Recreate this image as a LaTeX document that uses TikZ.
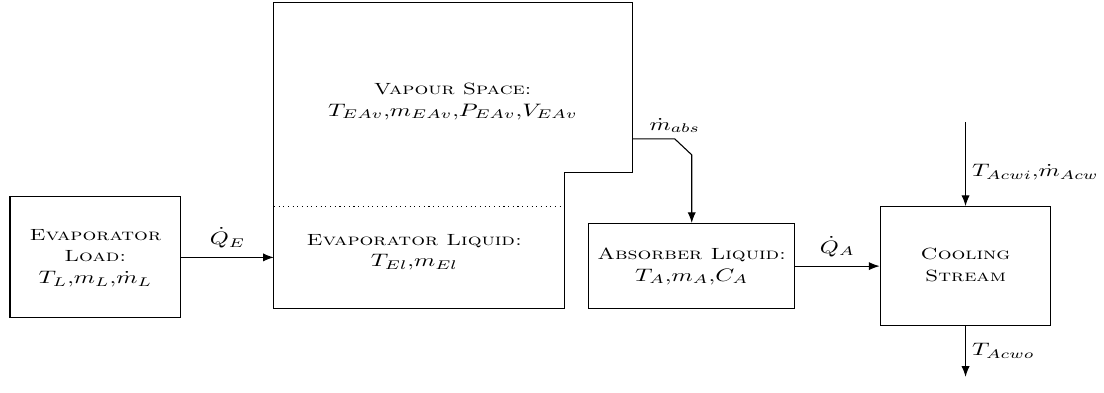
\documentclass[tikz,border=0pt]{standalone}
\usepackage{graphicx}
\usetikzlibrary{positioning,arrows.meta}
\newcommand{\wide}[1]{\scalebox{1.34}[1]{\begin{tabular}{@{}c@{}}#1\end{tabular}}}
\newcommand{\sclbl}[1]{{\small\textsc{#1}}}
\tikzset{
  blk/.style={draw,align=center,inner sep=2pt},
  flow/.style={-{Latex[length=2.1mm,width=1.6mm]}},
}
\begin{document}
\begin{tikzpicture}[line width=0.6pt]
\useasboundingbox (0,0) rectangle (21.53,7.66);
% blocks
\node[blk,minimum width=3.33cm,minimum height=2.36cm] (load) at (1.86,2.64)
  {\wide{\sclbl{Evaporator}\\\sclbl{Load:}\\$T_L{,}m_L{,}\dot{m}_L$}};
\node[blk,minimum width=4.01cm,minimum height=1.66cm] (absl) at (13.49,2.47)
  {\wide{\sclbl{Absorber Liquid:}\\$T_A{,}m_A{,}C_A$}};
\node[blk,minimum width=3.33cm,minimum height=2.32cm] (cool) at (18.83,2.47)
  {\wide{\sclbl{Cooling}\\\sclbl{Stream}}};
% evaporator vessel
\draw (5.34,1.64) -- (5.34,7.605) -- (12.34,7.605) -- (12.34,4.29)
  -- (11.0,4.29) -- (11.0,1.64) -- cycle;
\draw[dotted] (5.34,3.63) -- (11.0,3.63);
\node (vap) at (8.83,5.69) {\wide{\sclbl{Vapour Space:}\\$T_{EAv}{,}m_{EAv}{,}P_{EAv}{,}V_{EAv}$}};
\node (liq) at (8.08,2.75) {\wide{\sclbl{Evaporator Liquid:}\\$T_{El}{,}m_{El}$}};
\coordinate (vin) at (5.34,2.64);
\coordinate (vout) at (12.34,4.95);
\coordinate (bend) at (13.16,4.95);
\coordinate (cwin) at (18.83,5.28);
\coordinate (cwout) at (18.83,0.31);
% flows
\draw[flow] (load) -- (vin) node[midway,above] {\wide{$\dot{Q}_E$}};
\draw[flow] (vout) -- (bend) node[pos=1,above,inner sep=1pt] {\wide{$\dot{m}_{abs}$}}
  -- (13.49,4.64) -- (absl);
\draw[flow] (absl) -- (cool) node[midway,above] {\wide{$\dot{Q}_A$}};
\draw[flow] (cwin) -- (cool) node[pos=0.6,right] {\wide{$T_{Acwi}{,}\dot{m}_{Acw}$}};
\draw[flow] (cool) -- (cwout) node[midway,right] {\wide{$T_{Acwo}$}};
\end{tikzpicture}
\end{document}
